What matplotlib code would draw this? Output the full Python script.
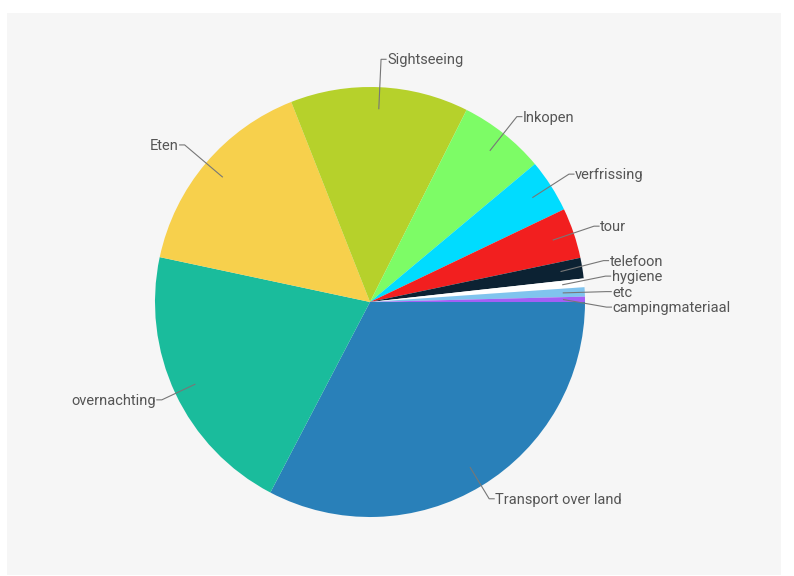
import numpy as np
import matplotlib.pyplot as plt
from matplotlib.patches import Rectangle

plt.rcParams['font.family'] = ['Roboto', 'DejaVu Sans']

# slice data (percent of total), clockwise from 3 o'clock
categories = ["Transport over land", "overnachting", "Eten", "Sightseeing", "Inkopen",
              "verfrissing", "tour", "telefoon", "hygiene", "etc", "campingmateriaal"]
values = [32.7, 20.7, 15.7, 13.4, 6.5, 4.0, 3.8, 1.55, 0.65, 0.7, 0.4]
colors = ["#2980b9", "#1abc9c", "#f7d04c", "#b6d12b", "#7dfc66", "#00dcff",
          "#f21f1f", "#0c2233", "#ffffff", "#80c4ee", "#a35ff5"]

W, H = 794, 576
cx, cy, R = 370, 302, 215

fig = plt.figure(figsize=(W / 100, H / 100), dpi=100)
fig.patch.set_facecolor("white")
fig.patches.append(Rectangle((7 / W, 1 / H), 774 / W, 562 / H, transform=fig.transFigure,
                             facecolor="#f6f6f6", edgecolor="none", zorder=-10))

ax = fig.add_axes([0, 0, 1, 1])
ax.set_zorder(1)
ax.patch.set_visible(False)
ax.set_xlim(0, W)
ax.set_ylim(H, 0)  # y down, so counterclockwise in data = clockwise on screen
ax.set_aspect("equal")
ax.axis("off")

wedges, _ = ax.pie(values, colors=colors, startangle=0, counterclock=True,
                   center=(cx, cy), radius=R, wedgeprops=dict(linewidth=0))
ax.set_xlim(0, W)
ax.set_ylim(H, 0)

# label positions: leader lines from 0.9R to just outside the pie
tot = sum(values)
mids = []
acc = 0
for v in values:
    mids.append(np.deg2rad((acc + v / 2) / tot * 360))
    acc += v

lab = []
for th in mids:
    if np.sin(th) > 0.3:
        r_out = 1.07 * R
    elif np.cos(th) > 0.5:
        r_out = 1.10 * R
    else:
        r_out = 1.13 * R
    lab.append([cx + r_out * np.cos(th), cy + r_out * np.sin(th)])

# spread overlapping labels on the right side
right = sorted([i for i in range(len(mids)) if np.cos(mids[i]) > 0], key=lambda i: lab[i][1])
gap = 15.5
for _ in range(200):
    moved = False
    for a, b in zip(right[:-1], right[1:]):
        d = lab[b][1] - lab[a][1]
        if d < gap - 1e-6:
            s = (gap - d) / 2
            lab[a][1] -= s
            lab[b][1] += s
            moved = True
    if not moved:
        break

for i, th in enumerate(mids):
    xi = cx + 0.9 * R * np.cos(th)
    yi = cy + 0.9 * R * np.sin(th)
    xo, yo = lab[i]
    side = 1 if np.cos(th) >= 0 else -1
    xe = xo + side * 5
    ax.plot([xi, xo, xe], [yi, yo, yo], color="#777777", lw=0.8, zorder=3)
    ax.text(xe + side * 1, yo + 1, categories[i], fontsize=10.5, color="#555555",
            ha="left" if side > 0 else "right", va="center", zorder=4)

fig.savefig("out.png", dpi=100)
